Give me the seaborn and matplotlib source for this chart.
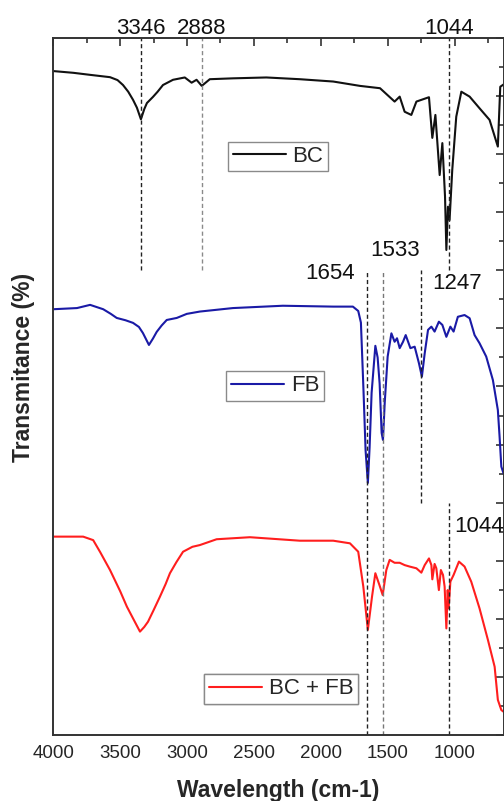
import pandas as pd
import seaborn as sns
import matplotlib.pyplot as plt
from matplotlib.ticker import MultipleLocator

# wavenumber (cm-1) and transmittance, curves stacked on one offset scale
bc_wn = [4000, 3850, 3725, 3576, 3520, 3479, 3440, 3404, 3375, 3345, 3320, 3300, 3255, 3220, 3180, 3105,
         3017, 2966, 2929, 2890, 2830, 2657, 2407, 2157, 1907, 1707, 1557, 1448, 1410, 1373, 1323, 1285,
         1191, 1166, 1143, 1111, 1091, 1071, 1061, 1049, 1037, 1017, 987, 949, 887, 813, 738, 676, 663,
         658, 633]
bc_t = [22.86, 22.8, 22.73, 22.65, 22.55, 22.38, 22.15, 21.87, 21.6, 21.2, 21.55, 21.76, 21.97, 22.15, 22.38, 22.56,
        22.64, 22.46, 22.56, 22.35, 22.58, 22.61, 22.64, 22.58, 22.5, 22.35, 22.27, 21.81, 21.98, 21.46, 21.35, 21.81,
        21.96, 20.56, 21.35, 19.28, 20.38, 18.54, 16.7, 18.19, 17.73, 19.45, 21.29, 22.15, 21.98, 21.58, 21.18, 20.26, 21.75,
        22.32, 22.4]

fb_wn = [4000, 3823, 3725, 3627, 3570, 3526, 3460, 3404, 3360, 3330, 3285, 3255, 3227, 3190, 3152, 3077, 3002,
         2904, 2657, 2284, 1907, 1760, 1720, 1700, 1690, 1680, 1665, 1648, 1635, 1620, 1592, 1575, 1560,
         1545, 1535, 1522, 1500, 1472, 1448, 1430, 1410, 1385, 1365, 1330, 1298, 1266, 1244, 1223, 1198,
         1173, 1149, 1117, 1091, 1061, 1031, 1007, 975, 925, 887, 850, 813, 763, 713, 676, 663, 650, 633]
fb_t = [14.66, 14.7, 14.81, 14.66, 14.5, 14.36, 14.28, 14.19, 14.05, 13.84, 13.43, 13.65, 13.88, 14.1, 14.29, 14.36, 14.5,
        14.58, 14.7, 14.78, 14.75, 14.75, 14.6, 14.2, 13.0, 11.78, 9.8, 8.68, 9.9, 11.78, 13.4, 13.0, 12.1,
        10.4, 10.16, 11.43, 13.03, 13.83, 13.54, 13.66, 13.32, 13.54, 13.77, 13.32, 13.37, 12.8, 12.34, 13.14, 13.95,
        14.06, 13.89, 14.23, 14.12, 13.71, 14.06, 13.89, 14.4, 14.46, 14.35, 13.77, 13.49, 13.03, 12.22, 11.19, 10.27, 9.24, 9.0]

mix_wn = [4000, 3777, 3702, 3650, 3576, 3500, 3450, 3400, 3352, 3320, 3292, 3250, 3203, 3160, 3128, 3080,
          3030, 2960, 2904, 2779, 2530, 2157, 1907, 1782, 1720, 1682, 1648, 1617, 1592, 1562, 1537, 1510,
          1485, 1448, 1410, 1373, 1336, 1285, 1248, 1223, 1191, 1173, 1166, 1149, 1136, 1117, 1102, 1086,
          1074, 1061, 1051, 1044, 1031, 1007, 967, 925, 875, 813, 750, 700, 676, 650, 633]
mix_t = [6.83, 6.83, 6.71, 6.3, 5.68, 4.95, 4.42, 3.98, 3.56, 3.72, 3.9, 4.3, 4.76, 5.2, 5.57, 5.95,
         6.31, 6.48, 6.54, 6.74, 6.81, 6.69, 6.69, 6.6, 6.31, 5.11, 3.62, 4.76, 5.57, 5.17, 4.82, 5.68,
         6.03, 5.93, 5.93, 5.85, 5.8, 5.74, 5.59, 5.85, 6.08, 5.85, 5.36, 5.89, 5.74, 4.99, 5.68, 5.51,
         5.11, 3.67, 4.99, 4.36, 5.28, 5.51, 5.97, 5.8, 5.28, 4.36, 3.27, 2.35, 1.21, 0.86, 0.8]

series_names = ["BC", "FB", "BC + FB"]

# marked peaks: wavenumber, label, extent of the dashed guide on the offset scale
peak_wn = [3346, 2888, 1044, 1654, 1533, 1247, 1044]
peak_label = ["3346", "2888", "1044", "1654", "1533", "1247", "1044"]
peak_ymin = [16, 16, 16, 0, 0, 8, 0]
peak_ymax = [24, 24, 24, 16, 16, 16, 8]

sns.set_theme(style="white")
plt.rcParams["font.family"] = ["Liberation Sans", "DejaVu Sans"]

fig = plt.figure(figsize=(5.04, 8.01), dpi=100)
ax = fig.add_axes([0.1058, 0.0824, 0.8942, 0.8702])

colors = ["#111111", "#1a1aa6", "#ff1e1e"]
curves = [(bc_wn, bc_t), (fb_wn, fb_t), (mix_wn, mix_t)]
for (wn, t), name, c in zip(curves, series_names, colors):
    df = pd.DataFrame({"wn": wn, "t": t})
    sns.lineplot(data=df, x="wn", y="t", color=c, lw=1.5, ax=ax, legend=False, label=name)

lines = ax.get_lines()[:3]

guide_colors = ["#222222", "#8a8a8a", "#222222", "#222222", "#777777", "#222222", "#222222"]
for wn, y0, y1, gc in zip(peak_wn, peak_ymin, peak_ymax, guide_colors):
    ax.plot([wn, wn], [y0, y1], ls=(0, (3, 2)), lw=1.0, color=gc)

# peak labels
txt = dict(fontsize=16, color="#111111", va="baseline", ha="center", clip_on=False)
ax.text(3346, 24.14, peak_label[0], **txt)
ax.text(2888, 24.14, peak_label[1], **txt)
ax.text(1044, 24.14, peak_label[2], **txt)
ax.text(1933, 15.7, peak_label[3], **txt)
ax.text(1448, 16.49, peak_label[4], **txt)
ax.text(984, 15.36, peak_label[5], **txt)
ax.text(816, 6.99, peak_label[6], **txt)

# one legend box per curve
anchors = [(0.4986, 0.830), (0.492, 0.5007), (0.505, 0.066)]
for ln, name, anc in zip(lines, series_names, anchors):
    leg = ax.legend(handles=[ln], labels=[name], loc="center", bbox_to_anchor=anc,
                    fontsize=16, frameon=True, fancybox=False, framealpha=1,
                    edgecolor="#8a8a8a", handlelength=2.4, handletextpad=0.3,
                    borderpad=0.2, borderaxespad=0)
    leg.get_frame().set_linewidth(1.0)
    ax.add_artist(leg)

ax.set_xlim(4000, 630)
ax.set_ylim(0, 24)
ax.xaxis.set_major_locator(MultipleLocator(500))
ax.xaxis.set_minor_locator(MultipleLocator(250))
ax.yaxis.set_major_locator(MultipleLocator(2))
ax.yaxis.set_minor_locator(MultipleLocator(1))
ax.set_yticklabels([])
ax.tick_params(which="both", direction="in", top=True, right=True, color="#333333", width=1.2)
ax.tick_params(which="major", length=6, labelsize=13.5, pad=7)
ax.tick_params(which="minor", length=3.5)
for s in ax.spines.values():
    s.set_color("#333333")
    s.set_linewidth(1.4)

ax.set_xlabel("Wavelength (cm-1)", fontsize=16.5, fontweight="bold", va="center")
ax.xaxis.set_label_coords(0.5, -0.079)
ax.set_ylabel("Transmitance (%)", fontsize=16.5, fontweight="bold", va="center")
ax.yaxis.set_label_coords(-0.067, 0.528)

fig.savefig("out.png", dpi=100)
